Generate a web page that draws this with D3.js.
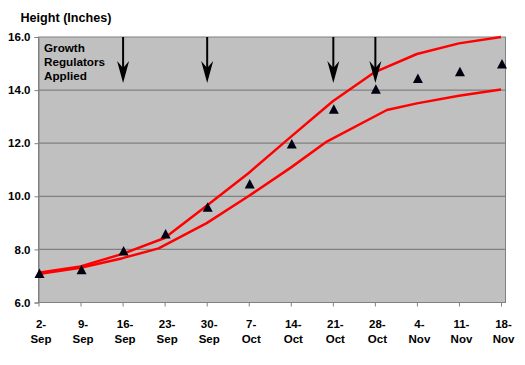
<!DOCTYPE html>
<html>
<head>
<meta charset="utf-8">
<script src="https://cdn.jsdelivr.net/npm/d3@7"></script>
<style>
  body { margin: 0; background: #fff; }
  svg { display: block; font-family: "Liberation Sans", Arial, sans-serif; }
</style>
</head>
<body>
<div id="chart"></div>
<script>
// weekly categories, day offset from 2-Sep
let dateLabels = ['2-Sep', '9-Sep', '16-Sep', '23-Sep', '30-Sep', '7-Oct', '14-Oct', '21-Oct', '28-Oct', '4-Nov', '11-Nov', '18-Nov']
let dateDays = [0, 7, 14, 21, 28, 35, 42, 49, 56, 63, 70, 77]

// measured heights (triangles)
let measured = [7.09, 7.23, 7.94, 8.58, 9.59, 10.46, 11.97, 13.28, 14.03, 14.44, 14.69, 14.98]

// upper / lower target curves
let upperDays = [0, 7, 14, 21, 28, 35, 42, 49, 56, 63, 70, 77]
let upperValues = [7.12, 7.36, 7.83, 8.43, 9.64, 10.88, 12.24, 13.58, 14.68, 15.36, 15.76, 16.0]
let lowerDays = [0, 7, 14, 20, 28, 35, 42, 48, 58, 63, 70, 77]
let lowerValues = [7.07, 7.31, 7.67, 8.04, 8.99, 10.01, 11.08, 12.06, 13.25, 13.50, 13.79, 14.02]

// growth regulator applications
let appliedDates = ['16-Sep', '30-Sep', '21-Oct', '28-Oct']

let yTicks = [6, 8, 10, 12, 14, 16]

let width = 525,
    height = 365

let plot = { left: 38.5, right: 505.5, top: 37, bottom: 302.5 }

let svg = d3.select('#chart')
    .append('svg')
    .attr('width', width)
    .attr('height', height)

let x = d3.scaleLinear().domain([0, 77]).range([38.5, 501])
let y = d3.scaleLinear().domain([6, 16]).range([plot.bottom, plot.top])

// plot background
svg.append('rect')
    .attr('x', plot.left)
    .attr('y', plot.top)
    .attr('width', plot.right - plot.left)
    .attr('height', plot.bottom - plot.top)
    .attr('fill', '#c0c0c0')
    .attr('stroke', '#808080')
    .attr('stroke-width', 1)

// gridlines
svg.selectAll('.grid')
    .data(yTicks.filter(d => d > 6 && d < 16))
    .enter().append('line')
    .attr('class', 'grid')
    .attr('x1', plot.left)
    .attr('x2', plot.right)
    .attr('y1', d => y(d))
    .attr('y2', d => y(d))
    .attr('stroke', '#808080')
    .attr('stroke-width', 1.3)

// y axis
let yAxis = svg.append('g')
    .attr('transform', 'translate(' + plot.left + ',0)')
    .call(d3.axisLeft(y).tickValues(yTicks).tickSize(4).tickPadding(4).tickFormat(d3.format('.1f')))
yAxis.select('.domain').attr('stroke', '#808080')
yAxis.selectAll('.tick line').attr('stroke', '#808080')
yAxis.selectAll('text')
    .attr('fill', '#000')
    .attr('font-size', '11.5px')
    .attr('font-weight', 'bold')
    .attr('font-family', '"Liberation Sans", Arial, sans-serif')

// x axis
let xAxis = svg.append('g')
    .attr('transform', 'translate(0,' + plot.bottom + ')')
    .call(d3.axisBottom(x).tickValues(dateDays).tickSize(4).tickFormat(''))
xAxis.select('.domain').remove()
xAxis.selectAll('.tick line').attr('stroke', '#808080')

let xLabels = xAxis.selectAll('.tick').append('text')
    .attr('fill', '#000')
    .attr('font-size', '11.5px')
    .attr('font-weight', 'bold')
    .attr('font-family', '"Liberation Sans", Arial, sans-serif')
    .attr('text-anchor', 'middle')
xLabels.append('tspan')
    .attr('x', 2)
    .attr('y', 25.5)
    .text((d, i) => dateLabels[i].split('-')[0] + '-')
xLabels.append('tspan')
    .attr('x', 2)
    .attr('y', 40.5)
    .text((d, i) => dateLabels[i].split('-')[1])

svg.append('line')
    .attr('x1', plot.left)
    .attr('x2', plot.right)
    .attr('y1', plot.bottom)
    .attr('y2', plot.bottom)
    .attr('stroke', '#808080')

// title
svg.append('text')
    .attr('x', 20.5)
    .attr('y', 21.5)
    .attr('font-size', '12.6px')
    .attr('font-weight', 'bold')
    .attr('fill', '#000')
    .text('Height (Inches)')

// red curves
let line = d3.line()
    .x(d => x(d[0]))
    .y(d => y(d[1]))

svg.append('path')
    .datum(d3.zip(lowerDays, lowerValues))
    .attr('d', line)
    .attr('fill', 'none')
    .attr('stroke', '#ff0000')
    .attr('stroke-width', 2.5)
    .attr('stroke-linejoin', 'round')

svg.append('path')
    .datum(d3.zip(upperDays, upperValues))
    .attr('d', line)
    .attr('fill', 'none')
    .attr('stroke', '#ff0000')
    .attr('stroke-width', 2.5)
    .attr('stroke-linejoin', 'round')

// measured triangles
svg.selectAll('.pt')
    .data(measured)
    .enter().append('path')
    .attr('class', 'pt')
    .attr('transform', (d, i) => 'translate(' + (x(dateDays[i]) + 1) + ',' + y(d) + ')')
    .attr('d', 'M0,-5 L5,4.5 L-5,4.5 Z')
    .attr('fill', '#000010')

// application arrows
let arrows = svg.selectAll('.arrow')
    .data(appliedDates)
    .enter().append('g')
    .attr('class', 'arrow')
    .attr('transform', d => 'translate(' + (x(dateDays[dateLabels.indexOf(d)]) + 0.5) + ',0)')
arrows.append('line')
    .attr('x1', 0)
    .attr('x2', 0)
    .attr('y1', plot.top)
    .attr('y2', 72)
    .attr('stroke', '#000')
    .attr('stroke-width', 2)
arrows.append('path')
    .attr('d', 'M0,83 L-6,61 L0,68 L6,61 Z')
    .attr('fill', '#000')

// annotation
let note = svg.append('text')
    .attr('font-size', '11.7px')
    .attr('font-weight', 'bold')
    .attr('fill', '#000')
;['Growth', 'Regulators', 'Applied'].forEach((t, i) => {
    note.append('tspan').attr('x', 44).attr('y', 52 + i * 14).text(t)
})
</script>
</body>
</html>
